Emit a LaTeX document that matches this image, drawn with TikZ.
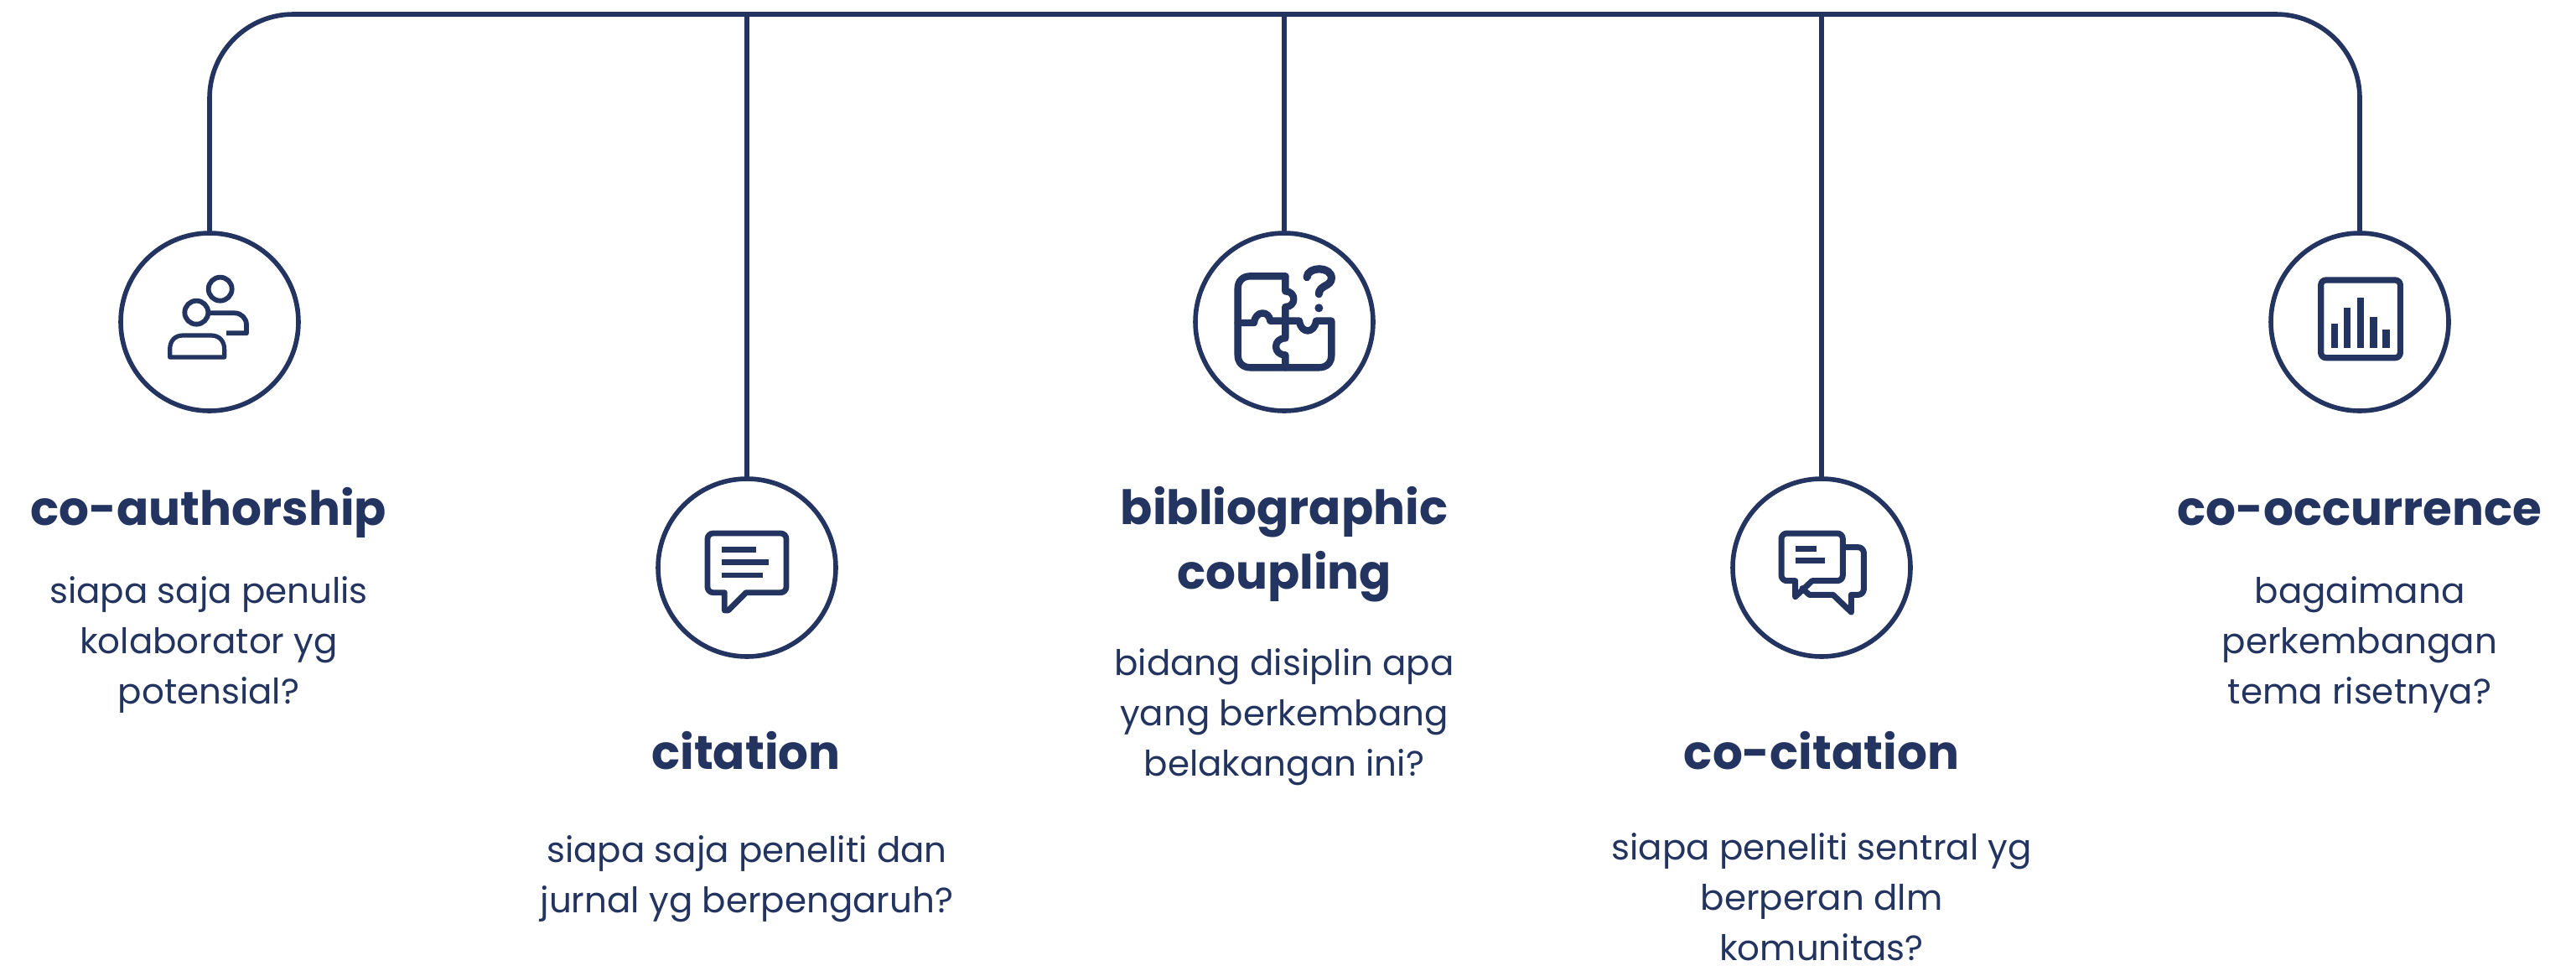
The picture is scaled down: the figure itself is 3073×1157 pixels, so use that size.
\documentclass[tikz,border=0pt]{standalone}
\usepackage{fontspec}
\setmainfont{Poppins}
\definecolor{navy}{HTML}{22345F}
\tikzset{
  hub/.style={circle,draw=navy,line width=2.8pt,fill=white,minimum size=106pt,inner sep=0pt,outer sep=0pt},
  link/.style={draw=navy,line width=2.8pt},
  headtext/.style={text=navy,font=\fontsize{28.2}{38.5}\selectfont\bfseries,align=center,inner sep=0pt},
  bodytext/.style={text=navy,font=\fontsize{21}{30}\selectfont,align=center,inner sep=0pt},
  glyph/.style={x=0.16667pt,y=-0.16667pt,draw=navy,line width=2.9pt,line join=round,line cap=round},
}
\begin{document}
\begin{tikzpicture}[x=0.5pt,y=-0.5pt]
\useasboundingbox[fill=white] (0,0) rectangle (3073,1157);
\node[hub] (c1) at (250,384) {};
\node[hub] (c2) at (891,677) {};
\node[hub] (c3) at (1532,384) {};
\node[hub] (c4) at (2173,677) {};
\node[hub] (c5) at (2815,384) {};
\coordinate (top) at (1532,17);
\draw[link,rounded corners=50pt] (c1.north) |- (top) -| (c5.north);
\draw[link] (c2.north) -- (c2.north |- top);
\draw[link] (c3.north) -- (top);
\draw[link] (c4.north) -- (c4.north |- top);

\node[headtext] (h1) at (249,611) {co-authorship};
\node[bodytext] (b1) at (249,769) {siapa saja penulis\\kolaborator yg\\potensial?};
\node[headtext] (h2) at (890,895) {citation};
\node[bodytext] (b2) at (891,1048) {siapa saja peneliti dan\\jurnal yg berpengaruh?};
\node[headtext] (h3) at (1532,649) {bibliographic\\coupling};
\node[bodytext] (b3) at (1532,855) {bidang disiplin apa\\yang berkembang\\belakangan ini?};
\node[headtext] (h4) at (2173,895) {co-citation};
\node[bodytext] (b4) at (2173,1070) {siapa peneliti sentral yg\\berperan dlm\\komunitas?};
\node[headtext] (h5) at (2815,611) {co-occurrence};
\node[bodytext] (b5) at (2815,769) {bagaimana\\perkembangan\\tema risetnya?};

% icon 1
\begin{scope}[shift={(120,260)},glyph]
\draw (428,254) circle (42);
\draw (343,338) circle (42);
\draw[line cap=butt] (390,340) -- (480,340) arc (-90:0:42) -- (522,412) -- (450,412);
\draw[line width=2.6pt] (248,498) -- (248,470) .. controls (248,440) and (265,420) .. (295,420) -- (395,420) .. controls (425,420) and (443,440) .. (443,470) -- (443,498) -- cycle;
\end{scope}
% icon 2
\begin{scope}[shift={(770,560)},glyph]
\draw[line width=3.4pt] (242,228) -- (484,228) arc (-90:0:20) -- (504,420) arc (0:90:20) -- (360,440) -- (296,504) -- (283,504) -- (283,440) -- (242,440) arc (90:180:20) -- (222,248) arc (180:270:20) -- cycle;
\draw[line width=3.4pt,line cap=butt] (272,287) -- (395,287);
\draw[line width=3.4pt,line cap=butt] (272,332) -- (440,332);
\draw[line width=3.4pt,line cap=butt] (272,378) -- (420,378);
\end{scope}
% icon 3
\begin{scope}[shift={(1410,260)},glyph,line width=4.2pt]
\draw (370,208) -- (245,208) .. controls (218,208) and (200,225) .. (200,252) -- (200,490) .. controls (200,518) and (218,535) .. (245,535) -- (490,535) .. controls (518,535) and (535,518) .. (535,490) -- (535,368) -- (480,368) .. controls (475,415) and (425,415) .. (420,368) -- (370,368);
\draw (370,208) -- (370,262) .. controls (410,262) and (410,318) .. (370,318) -- (370,430) .. controls (325,430) and (325,490) .. (370,490) -- (370,535);
\draw (200,375) -- (258,375) .. controls (262,330) and (312,330) .. (316,368) -- (370,368);
\draw[line width=4.6pt] (447,212) .. controls (450,172) and (535,172) .. (535,215) .. controls (535,245) and (490,240) .. (490,272);
\fill[navy] (490,322) circle (15);
\end{scope}
% icon 4
\begin{scope}[shift={(2040,560)},glyph,line width=3.5pt]
\draw (275,228) -- (455,228) arc (-90:0:20) -- (475,378) arc (0:90:20) -- (365,398) -- (305,455) -- (305,398) -- (275,398) arc (90:180:20) -- (255,248) arc (180:270:20) -- cycle;
\draw[line cap=butt] (305,282) -- (380,282);
\draw[line cap=butt] (305,325) -- (410,325);
\draw (475,278) -- (530,278) arc (-90:0:20) -- (550,428) arc (0:90:20) -- (505,448) -- (505,510) -- (440,448) -- (355,448) -- (330,425);
\end{scope}
% icon 5
\begin{scope}[shift={(2690,260)},glyph,line width=3.6pt]
\draw[rounded corners=3pt] (236,222) rectangle (520,500);
\draw[line cap=butt,line width=4.4pt] (285,378) -- (285,465);
\draw[line cap=butt,line width=4.4pt] (330,320) -- (330,465);
\draw[line cap=butt,line width=4.4pt] (378,285) -- (378,465);
\draw[line cap=butt,line width=4.4pt] (424,355) -- (424,465);
\draw[line cap=butt,line width=4.4pt] (470,400) -- (470,465);
\end{scope}
\end{tikzpicture}
\end{document}
